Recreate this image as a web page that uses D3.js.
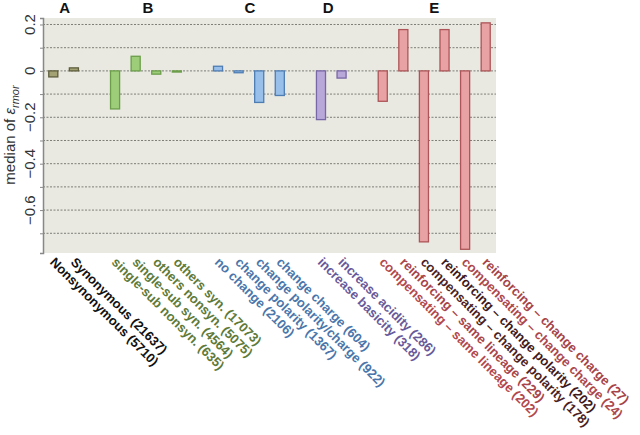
<!DOCTYPE html>
<html><head><meta charset="utf-8">
<script src="https://cdn.jsdelivr.net/npm/d3@7"></script>
<style>body{margin:0;background:#fff}svg{display:block}text{font-family:Arial,"Liberation Sans",sans-serif}</style>
</head><body><svg id="c" width="640" height="435"></svg>
<script>
// slots (blank entries are spacers between groups)
const categories = ["Nonsynonymous (5710)","Synonymous (21637)","_g1",
 "single-sub nonsyn. (635)","single-sub syn. (4564)","others nonsyn. (5075)","others syn. (17073)","_g2",
 "no change (2106)","change polarity (1367)","change polarity/charge (922)","change charge (604)","_g3",
 "increase basicity (318)","increase acidity (286)","_g4",
 "compensating – same lineage (202)","reinforcing – same lineage (229)","compensating – change polarity (178)","reinforcing – change polarity (202)","compensating – change charge (24)","reinforcing – change charge (27)"];
const values = [-0.026,0.013,null,-0.164,0.063,-0.014,-0.005,null,0.020,-0.008,-0.136,-0.106,null,-0.210,-0.031,null,-0.131,0.178,-0.737,0.178,-0.769,0.207];
const groups = ["A","A",null,"B","B","B","B",null,"C","C","C","C",null,"D","D",null,"E","E","E","E","E","E"];
const groupLetters = ["A","B","C","D","E"];
const groupLetterSlots = [0.55,4.6,9.55,13.35,18.5];
const yTicks = [0.2,0,-0.2,-0.4,-0.6];
const gridVals = [0.2,0.1,0,-0.1,-0.2,-0.3,-0.4,-0.5,-0.6,-0.7];

const fills = {A:"#a3a274",B:"#9dcd78",C:"#97bfe9",D:"#b8a7d9",E:"#e9a2a3"};
const strokes = {A:"#5e5e3e",B:"#6c9e4a",C:"#4e7db4",D:"#7867a6",E:"#ad5558"};
const labelColors = ["#111","#111",null,"#5e7a38","#5e7a38","#5e7a38","#5e7a38",null,
 "#4a76ab","#4a76ab","#4a76ab","#4a76ab",null,"#67599a","#67599a",null,
 "#b2484e","#a8444a","#4d1f23","#3e181b","#ad474c","#a64348"];

const svg = d3.select("#c");
const L=43, R=496, T=18, B=253;
const x = d3.scaleBand().domain(d3.range(categories.length)).range([L,R]).paddingInner(0.56).paddingOuter(0.28);
const y = d3.scaleLinear().domain([0.228,-0.785]).range([T,B]);

svg.append("rect").attr("x",L).attr("y",T).attr("width",R-L).attr("height",B-T).attr("fill","#e9e9e1");
svg.append("g").selectAll("line").data(gridVals).join("line")
 .attr("x1",L).attr("x2",R).attr("y1",d=>y(d)).attr("y2",d=>y(d))
 .attr("stroke","#7e7e78").attr("stroke-width",1).attr("stroke-dasharray","2,1.5");

const yAxis = svg.append("g").attr("transform",`translate(${L},0)`)
 .call(d3.axisLeft(y).tickValues(gridVals).tickSize(3).tickFormat(""));
yAxis.select(".domain").attr("stroke","#888").attr("stroke-width",1.5);
yAxis.selectAll(".tick line").attr("stroke","#888");
svg.append("g").selectAll("text").data(yTicks).join("text")
 .attr("transform",d=>`translate(35,${y(d)}) rotate(-90)`)
 .attr("text-anchor","middle").attr("font-size",15).attr("fill","#333")
 .text(d=>d===0?"0":d3.format(".1f")(d));

const yt = svg.append("text").attr("transform","translate(15,135) rotate(-90)")
 .attr("text-anchor","middle").attr("font-size",15).attr("fill","#333");
yt.append("tspan").text("median of ");
yt.append("tspan").attr("font-style","italic").text("ε");
yt.append("tspan").attr("font-style","italic").attr("font-size",11).attr("dy",4).text("rmor");

const idx = d3.range(categories.length).filter(i=>values[i]!==null);
svg.append("g").selectAll("rect").data(idx).join("rect")
 .attr("x",i=>x(i)).attr("width",x.bandwidth())
 .attr("y",i=>y(Math.max(0,values[i]))).attr("height",i=>Math.abs(y(values[i])-y(0)))
 .attr("fill",i=>fills[groups[i]]).attr("stroke",i=>strokes[groups[i]]).attr("stroke-width",1.3);

svg.append("g").selectAll("text").data(idx).join("text")
 .attr("transform",i=>`translate(${x(i)+x.bandwidth()/2-4},${B+10}) rotate(45)`)
 .attr("font-size",13).attr("font-weight","bold").attr("fill",i=>labelColors[i])
 .text(i=>categories[i]);

svg.append("g").selectAll("text").data(groupLetters).join("text")
 .attr("x",(d,i)=>L+ (groupLetterSlots[i]+0.5)*x.step()).attr("y",13)
 .attr("text-anchor","middle").attr("font-size",15).attr("font-weight","bold").attr("fill","#111")
 .text(d=>d);
</script></body></html>
